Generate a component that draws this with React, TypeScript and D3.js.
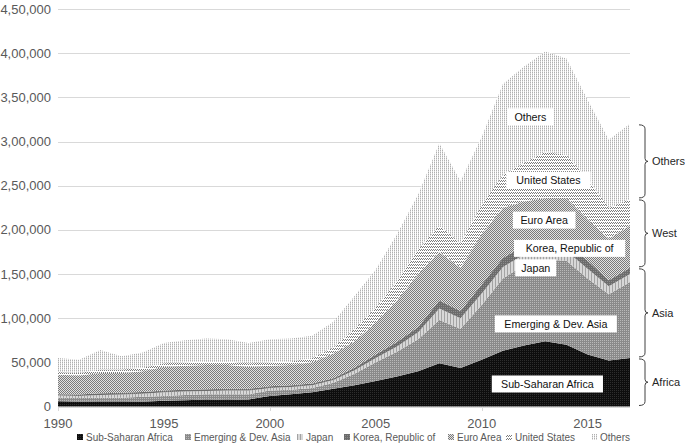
import React from 'react';
import * as d3 from 'd3';

// ---------------- data ----------------
const years = [1990, 1991, 1992, 1993, 1994, 1995, 1996, 1997, 1998, 1999, 2000, 2001, 2002, 2003, 2004, 2005, 2006, 2007, 2008, 2009, 2010, 2011, 2012, 2013, 2014, 2015, 2016, 2017];

const subSaharanAfrica = [6000, 5500, 5000, 5000, 5500, 6500, 7000, 8000, 7500, 8000, 12000, 14000, 16000, 20000, 24000, 29000, 34000, 40000, 49000, 43500, 53000, 63000, 69000, 74000, 70000, 59000, 52000, 55000];
const emergingAsia = [4000, 4000, 5000, 5000, 5500, 5500, 6000, 6000, 6500, 6000, 6000, 5000, 5000, 7000, 13000, 21000, 28000, 36000, 49000, 44500, 62000, 82000, 91000, 92000, 95000, 86000, 75000, 86000];
const japan = [2500, 2500, 3000, 3500, 3500, 4000, 4000, 3500, 4000, 4000, 3000, 3000, 3000, 3000, 4000, 5000, 6000, 8000, 13000, 12000, 13000, 13000, 12000, 12000, 11000, 11000, 9000, 9000];
const korea = [1500, 1500, 2000, 2000, 2000, 2000, 2000, 2000, 2000, 2000, 2000, 2000, 2000, 2000, 3000, 4000, 5000, 6000, 9000, 8000, 10000, 10000, 10000, 10000, 10000, 9000, 7000, 7000];
const euroArea = [22000, 21500, 23000, 22500, 23500, 27000, 27000, 27500, 27000, 25000, 23000, 23000, 24000, 28000, 30000, 36000, 47000, 60000, 55000, 49000, 57000, 57000, 50000, 48000, 50000, 47000, 47000, 48000];
const unitedStates = [3000, 3000, 4000, 4000, 4000, 4000, 4000, 4000, 4000, 4000, 4000, 4000, 5000, 7000, 14000, 17000, 22000, 28000, 30000, 28000, 33000, 37000, 44000, 52000, 49000, 46000, 35000, 30000];
const others = [16000, 15000, 22000, 15000, 17000, 23000, 25000, 26000, 25000, 23000, 26000, 26000, 25000, 29000, 37000, 43000, 53000, 62000, 93000, 70000, 77000, 103000, 109000, 114000, 109000, 89000, 77000, 85000];

const seriesKeys = ['ssa', 'asia', 'japan', 'korea', 'euro', 'us', 'others'];
const seriesNames = ['Sub-Saharan Africa', 'Emerging & Dev. Asia', 'Japan', 'Korea, Republic of', 'Euro Area', 'United States', 'Others'];
const seriesValues = [subSaharanAfrica, emergingAsia, japan, korea, euroArea, unitedStates, others];

const yTicks = [0, 50000, 100000, 150000, 200000, 250000, 300000, 350000, 400000, 450000];
const yTickLabels = ['0', '50,000', '1,00,000', '1,50,000', '2,00,000', '2,50,000', '3,00,000', '3,50,000', '4,00,000', '4,50,000'];
const xTicks = [1990, 1995, 2000, 2005, 2010, 2015];
const xTickMarks = [1990, 2000, 2010];

// in-chart annotation anchors (data units)
const annoTexts = ['Others', 'United States', 'Euro Area', 'Korea, Republic of', 'Japan', 'Emerging & Dev. Asia', 'Sub-Saharan Africa'];
const annoYears = [2012.3, 2013.15, 2012.95, 2014.15, 2012.55, 2013.5, 2013.1];
const annoValues = [328000, 256000, 211000, 179000, 157000, 93500, 25500];

// group brackets (series index ranges)
const groupNames = ['Africa', 'Asia', 'West', 'Others'];
const groupFrom = [0, 1, 4, 6];
const groupTo = [0, 3, 5, 6];

// ---------------- layout ----------------
const W = 685;
const H = 445;
const FONT = '"Liberation Sans", Arial, sans-serif';
const legendX = [77, 185, 297, 344, 448, 506, 591];

const patterns: { id: string; w: number; h: number; bg: string; px: [number, number, string][] }[] = [
  { id: 'p-ssa', w: 2, h: 2, bg: '#0e0e0e', px: [[0, 0, '#2e2e2e']] },
  { id: 'p-asia', w: 2, h: 2, bg: '#8a8a8a', px: [[0, 0, '#b9b9b9']] },
  { id: 'p-japan', w: 3, h: 1, bg: '#d8d8d8', px: [[0, 0, '#a3a3a3']] },
  { id: 'p-korea', w: 2, h: 2, bg: '#6c6c6c', px: [[1, 1, '#8c8c8c']] },
  { id: 'p-euro', w: 2, h: 2, bg: '#e2e2e2', px: [[0, 0, '#7a7a7a'], [1, 1, '#7a7a7a']] },
  { id: 'p-us', w: 4, h: 3, bg: '#ffffff', px: [[0, 1, '#7a7a7a'], [1, 0, '#7a7a7a'], [2, 1, '#7a7a7a'], [3, 0, '#7a7a7a']] },
  { id: 'p-others', w: 2, h: 2, bg: '#ffffff', px: [[0, 0, '#b0b0b0'], [0, 1, '#dadada']] },
];

export default function App() {
  const x = d3.scaleLinear().domain([1990, 2017]).range([58, 630]);
  const y = d3.scaleLinear().domain([0, 450000]).range([406.5, 9]);

  const table = years.map((yr, i) => {
    const row: any = { year: yr };
    seriesKeys.forEach((k, j) => (row[k] = seriesValues[j][i]));
    return row;
  });
  const stacked = d3.stack<any>().keys(seriesKeys)(table);
  const area = d3
    .area<any>()
    .x((d) => x(d.data.year))
    .y0((d) => y(d[0]))
    .y1((d) => y(d[1]));

  const last = years.length - 1;

  return (
    <svg width={W} height={H} style={{ position: 'absolute', left: 0, top: 0, background: '#fff' }} fontFamily={FONT}>
      <defs>
        {patterns.map((p) => (
          <pattern key={p.id} id={p.id} patternUnits="userSpaceOnUse" width={p.w} height={p.h}>
            <rect width={p.w} height={p.h} fill={p.bg} shapeRendering="crispEdges" />
            {p.px.map(([px, py, c], i) => (
              <rect key={i} x={px} y={py} width={1} height={1} fill={c} shapeRendering="crispEdges" />
            ))}
          </pattern>
        ))}
      </defs>

      {/* gridlines */}
      {yTicks.map((t) => (
        <line key={t} x1={x(1990)} x2={x(2017)} y1={Math.round(y(t)) + 0.5} y2={Math.round(y(t)) + 0.5} stroke="#d9d9d9" strokeWidth={1} />
      ))}

      {/* areas */}
      {stacked.map((s, i) => (
        <path key={s.key} d={area(s) || ''} fill={`url(#${patterns[i].id})`} />
      ))}

      {/* x tick marks */}
      {xTickMarks.map((t) => (
        <line key={t} x1={Math.round(x(t)) + 0.5} x2={Math.round(x(t)) + 0.5} y1={407} y2={411} stroke="#d9d9d9" />
      ))}

      {/* y labels */}
      {yTicks.map((t, i) => (
        <text key={t} x={51} y={y(t)} dy="0.35em" textAnchor="end" fontSize={13} fill="#595959">
          {yTickLabels[i]}
        </text>
      ))}

      {/* x labels */}
      {xTicks.map((t) => (
        <text key={t} x={x(t)} y={428} textAnchor="middle" fontSize={13} fill="#595959">
          {t}
        </text>
      ))}

      {/* annotations */}
      {annoTexts.map((t, i) => {
        const cx = x(annoYears[i]);
        const cy = y(annoValues[i]);
        const w = t.length * 5.4 + 14;
        return (
          <g key={t}>
            <rect x={cx - w / 2} y={cy - 8.5} width={w} height={17} fill="#fff" />
            <text x={cx} y={cy} dy="0.36em" textAnchor="middle" fontSize={10.7} fill="#111">
              {t}
            </text>
          </g>
        );
      })}

      {/* brackets */}
      {groupNames.map((g, i) => {
        const top = y(stacked[groupTo[i]][last][1]) + 1;
        const bot = y(stacked[groupFrom[i]][last][0]) - 1;
        const mid = (top + bot) / 2;
        const x0 = 639;
        const x1 = 645;
        const d = `M${x0},${top} Q${x1},${top} ${x1},${top + 4} L${x1},${mid - 3} Q${x1},${mid} ${x1 + 3},${mid} Q${x1},${mid} ${x1},${mid + 3} L${x1},${bot - 4} Q${x1},${bot} ${x0},${bot}`;
        return (
          <g key={g}>
            <path d={d} fill="none" stroke="#404040" strokeWidth={1} />
            <text x={652} y={mid} dy="0.35em" fontSize={11} fill="#262626">
              {g}
            </text>
          </g>
        );
      })}

      {/* legend */}
      {seriesNames.map((n, i) => (
        <g key={n}>
          <rect x={legendX[i]} y={434} width={6} height={6} fill={`url(#${patterns[i].id})`} />
          <text x={legendX[i] + 9} y={441} fontSize={10} fill="#595959">
            {n}
          </text>
        </g>
      ))}
    </svg>
  );
}
